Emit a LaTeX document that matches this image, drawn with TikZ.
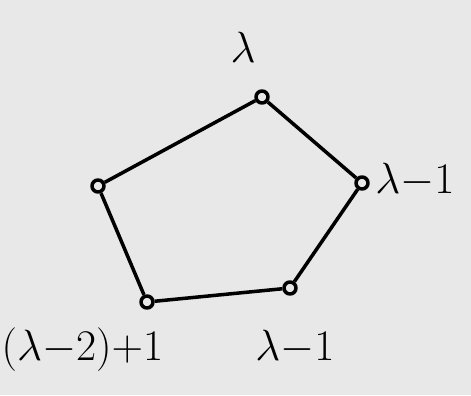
\documentclass[tikz,border=0pt]{standalone}
\usepackage{tikz}
\usetikzlibrary{positioning}
\definecolor{boardgray}{RGB}{232,232,232}

\begin{document}
\begin{tikzpicture}[line width=2pt, line join=round,
  vtx/.style={draw, circle, inner sep=0pt, minimum size=0.24cm},
  lbl/.style={font=\fontsize{30}{36}\selectfont}]
% ---- background ----
\fill[boardgray] (0,0) rectangle (9.42,7.9);
\useasboundingbox (0,0) rectangle (9.42,7.9);
% ---- vertices ----
\node[vtx] (top)   at (5.24,5.96) {};
\node[vtx] (right) at (7.24,4.24) {};
\node[vtx] (br)    at (5.80,2.14) {};
\node[vtx] (bl)    at (2.94,1.86) {};
\node[vtx] (left)  at (1.96,4.18) {};
% ---- edges ----
\draw (top) -- (right) -- (br) -- (bl) -- (left) -- (top);
% ---- labels ----
\node[lbl] (ltop)   at (4.86,6.95) {$\lambda$};
\node[lbl] (lright) at (8.30,4.30) {$\lambda{-}1$};
\node[lbl] (lbr)    at (5.90,0.95) {$\lambda{-}1$};
\node[lbl] (lbl)    at (1.65,0.90) {$(\lambda{-}2){+}1$};
\end{tikzpicture}
\end{document}
